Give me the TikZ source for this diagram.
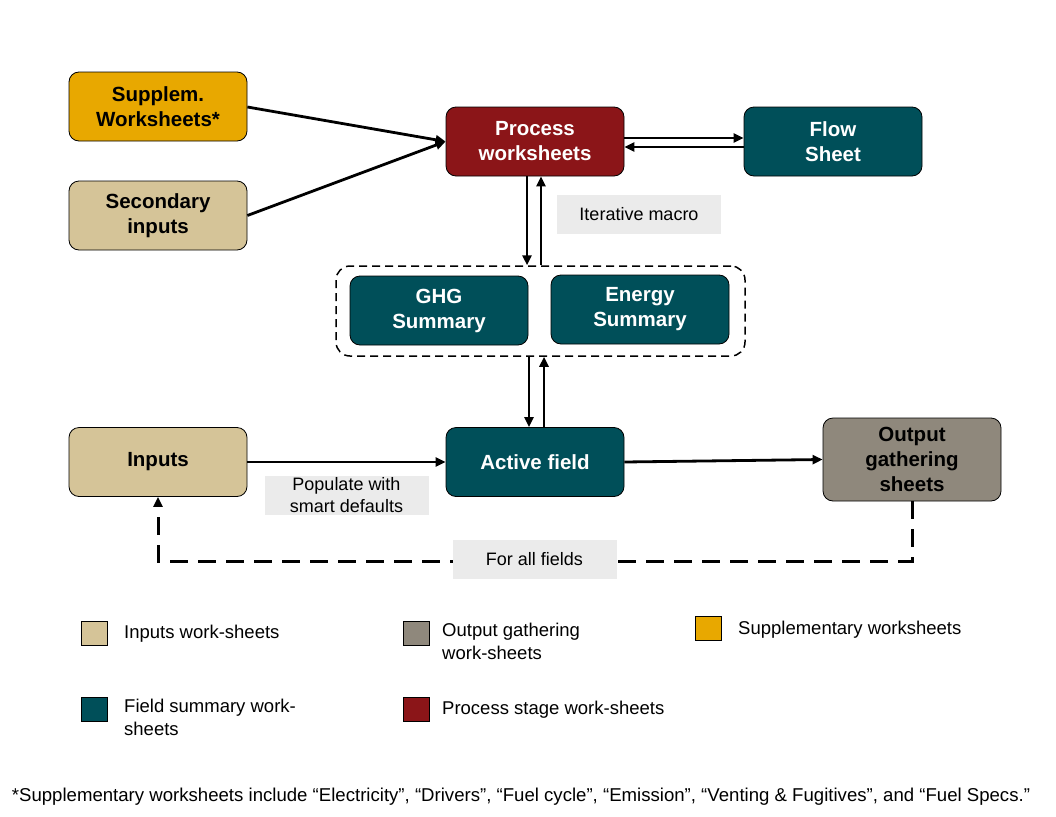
\documentclass[tikz,border=0pt]{standalone}
\usepackage{fontspec}
\setmainfont{Liberation Sans}
\usetikzlibrary{arrows.meta,calc}
\definecolor{cgold}{RGB}{232,168,0}
\definecolor{ctan}{RGB}{213,196,152}
\definecolor{cred}{RGB}{139,21,24}
\definecolor{cteal}{RGB}{0,79,89}
\definecolor{cgray}{RGB}{143,136,124}
\definecolor{clabel}{RGB}{235,235,235}
\tikzset{
  box/.style={draw=black, line width=0.8pt, rounded corners=10pt, minimum width=178pt, minimum height=69pt,
    align=center, font=\fontsize{20.5}{25}\selectfont\bfseries, inner sep=2pt},
  darkbox/.style={box, text=white},
  lbl/.style={fill=clabel, minimum width=164pt, minimum height=39pt, align=center,
    font=\fontsize{18}{22}\selectfont, inner sep=1pt},
  arr/.style={line width=2.8pt, -{Triangle[length=10pt,width=9pt]}},
  dashline/.style={line width=3pt, dash pattern=on 18pt off 10pt, -{Triangle[length=10pt,width=9pt]}},
  grpbox/.style={draw=black, line width=1.5pt, dash pattern=on 8pt off 5pt, rounded corners=14pt,
    minimum width=409pt, minimum height=90pt},
  legsq/.style={draw=black, line width=0.6pt, minimum width=26pt, minimum height=24pt, inner sep=0pt},
  legtxt/.style={anchor=west, align=left, font=\fontsize{18.5}{23}\selectfont, inner sep=0pt},
}
\begin{document}
\begin{tikzpicture}[x=1pt,y=-1pt]
\useasboundingbox (0,0) rectangle (1056,816);
% nodes
\node[box, fill=cgold] (supp) at (158,106.5) {Supplem.\\Worksheets*};
\node[box, fill=ctan] (sec) at (158,215.5) {Secondary\\inputs};
\node[darkbox, fill=cred] (proc) at (535,141.5) {Process\\worksheets};
\node[darkbox, fill=cteal] (flow) at (833,141.5) {Flow\\Sheet};
\node[grpbox] (grp) at (540.5,311) {};
\node[darkbox, fill=cteal] (ghg) at (439,310.5) {GHG\\Summary};
\node[darkbox, fill=cteal] (energy) at (640,309.5) {Energy\\Summary};
\node[box, fill=ctan] (inputs) at (158,462) {Inputs};
\node[darkbox, fill=cteal] (active) at (535,462) {Active field};
\node[box, fill=cgray, minimum height=83pt] (output) at (912,459.5) {Output\\gathering\\sheets};
\coordinate (dl) at (158,561);
% connectors
\draw[arr] ([yshift=-0.5pt]supp.east) -- (proc.west);
\draw[arr] (sec.east) -- (proc.west);
\draw[arr] ([yshift=3.5pt]proc.east) -- ([yshift=3.5pt]flow.west);
\draw[arr] ([yshift=-5.5pt]flow.west) -- ([yshift=-5.5pt]proc.east);
\draw[arr] ([xshift=-8pt]proc.south) -- ([xshift=-8pt]proc.south |- grp.north);
\draw[arr] ([xshift=6pt]proc.south |- grp.north) -- ([xshift=6pt]proc.south);
\draw[arr] ([xshift=-6pt]active.north |- grp.south) -- ([xshift=-6pt]active.north);
\draw[arr] ([xshift=9pt]active.north) -- ([xshift=9pt]active.north |- grp.south);
\draw[arr] (inputs.east) -- (active.west);
\draw[arr] (active.east) -- (output.west);
\draw[dashline] (output.south) |- (dl) -- (inputs.south);
% labels
\node[lbl] (itm) at (639,214.5) {Iterative macro};
\node[lbl] (pop) at (346.5,495.5) {Populate with\\smart defaults};
\node[lbl] (fall) at (534.5,559.5) {For all fields};
% legend
\node[legsq, fill=ctan] (l1) at (94,633) {};
\node[legtxt] (t1) at (124,634) {Inputs work-sheets};
\node[legsq, fill=cgray] (l2) at (416,633) {};
\node[legtxt, anchor=north west] (t2) at (442,623) {Output gathering\\work-sheets};
\node[legsq, fill=cgold] (l3) at (708,628) {};
\node[legtxt] (t3) at (738,630) {Supplementary worksheets};
\node[legsq, fill=cteal] (l4) at (94,709) {};
\node[legtxt, anchor=north west] (t4) at (124,699) {Field summary work-\\sheets};
\node[legsq, fill=cred] (l5) at (416,709) {};
\node[legtxt] (t5) at (442,710) {Process stage work-sheets};
% footnote
\node[font=\fontsize{18.6}{21}\selectfont, inner sep=0pt] (foot) at (521,797) {*Supplementary worksheets include “Electricity”, “Drivers”, “Fuel cycle”, “Emission”, “Venting \& Fugitives”, and “Fuel Specs.”};
\end{tikzpicture}
\end{document}
